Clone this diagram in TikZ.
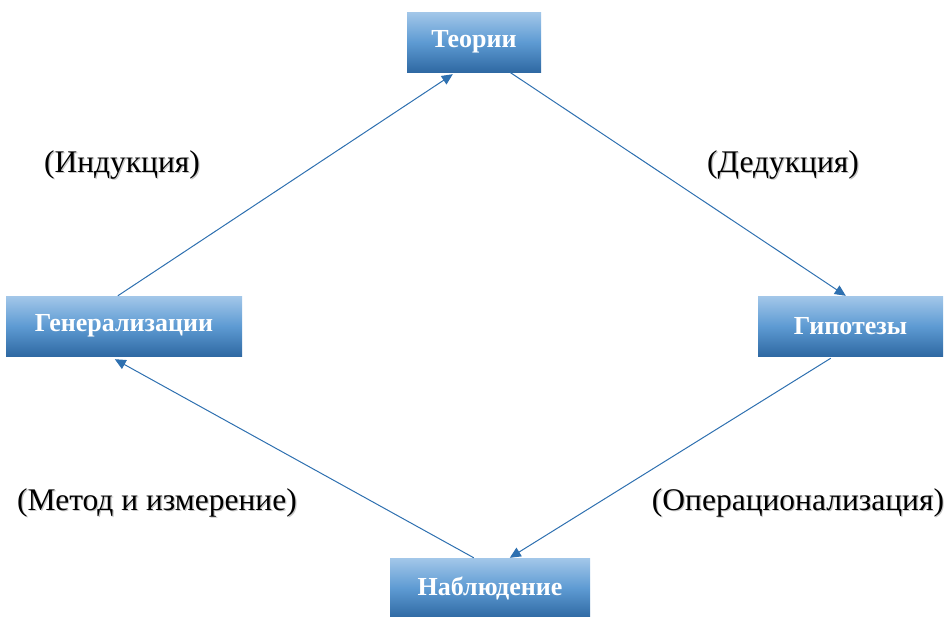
\documentclass[tikz,border=0pt]{standalone}
\usepackage{fontspec}
\setmainfont{Liberation Serif}
\usetikzlibrary{arrows.meta,calc}
\definecolor{boxtop}{HTML}{A3C7E9}
\definecolor{boxmid}{HTML}{5E9BD3}
\definecolor{boxbot}{HTML}{2F69A3}
\definecolor{arrowc}{HTML}{2E70B0}
\begin{document}
\begin{tikzpicture}[x=1pt,y=-1pt,
  blockbox/.style={minimum height=60pt, inner sep=0pt, text=white,
    font=\bfseries\fontsize{26}{30}\selectfont,
    top color=boxtop, bottom color=boxbot, middle color=boxmid},
  flow/.style={draw=arrowc, line width=1pt, -{Triangle[length=11pt,width=10pt]}},
  lbl/.style={font=\fontsize{31.5}{34}\selectfont, inner sep=0pt},
  lblshadow/.style={lbl, text=black!22}]
\useasboundingbox (0,0) rectangle (952,616);
\node[blockbox, minimum width=134pt] (teo) at (474,42) {Теории};
\node[blockbox, minimum width=236pt] (gen) at (124,326) {Генерализации};
\node[blockbox, minimum width=185pt] (gip) at (850.5,326) {Гипотезы};
\node[blockbox, minimum width=200pt, minimum height=60pt] (nab) at (490,588) {Наблюдение};
\draw[flow] ($(gen.north west)+(112,0)$) -- ($(teo.south west)+(46,2)$);
\draw[flow] ($(teo.south west)+(103,0)$) -- ($(gip.north west)+(88,0)$);
\draw[flow] ($(gip.south west)+(73,2)$) -- ($(nab.north west)+(120,0)$);
\draw[flow] ($(nab.north west)+(84,0)$) -- ($(gen.south west)+(109,3)$);
\node[lblshadow] (inds) at (123.2,166.2) {(Индукция)};
\node[lbl] (ind) at (122,165) {(Индукция)};
\node[lblshadow] (deds) at (784.2,166.2) {(Дедукция)};
\node[lbl] (ded) at (783,165) {(Дедукция)};
\node[lblshadow] (mets) at (158.2,504.2) {(Метод и измерение)};
\node[lbl] (met) at (157,503) {(Метод и измерение)};
\node[lblshadow] (opes) at (799.2,504.2) {(Операционализация)};
\node[lbl] (ope) at (798,503) {(Операционализация)};
\end{tikzpicture}
\end{document}
